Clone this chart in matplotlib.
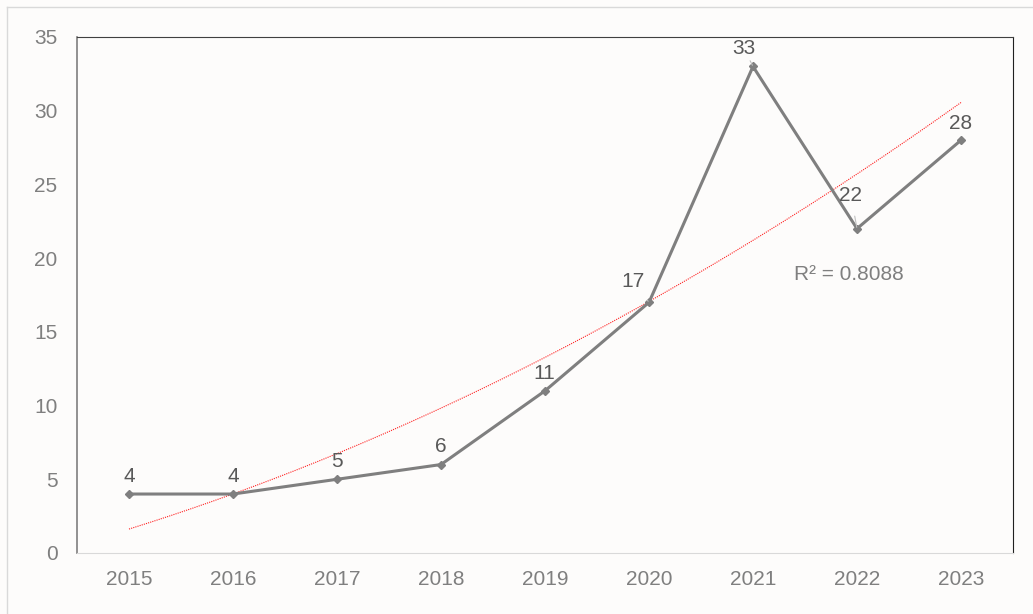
import numpy as np
import matplotlib
matplotlib.use("Agg")
import matplotlib.pyplot as plt
from matplotlib.lines import Line2D

years = ["2015", "2016", "2017", "2018", "2019", "2020", "2021", "2022", "2023"]
counts = [4, 4, 5, 6, 11, 17, 33, 22, 28]
r2_label = "R² = 0.8088"

# label offsets in pixels (dx, dy) relative to each point
label_offsets = [(0, 18), (0, 18), (0, 18), (0, 18), (-1, 17), (-16, 21), (-9, 18), (-6, 33), (0, 17)]
leader = [False, False, False, False, False, True, True, True, False]

plt.rcParams["font.family"] = ["Liberation Sans", "DejaVu Sans"]

bg = "#fdfcfb"
fig = plt.figure(figsize=(10.33, 6.14), dpi=100, facecolor=bg)
ax = fig.add_axes([77 / 1033, 61 / 614, 936 / 1033, 516 / 614], facecolor=bg)

# outer chart border (only left/top visible)
fig.add_artist(Line2D([7 / 1033, 7 / 1033], [0, 1 - 7 / 614], transform=fig.transFigure,
                      color="#d9d9d9", lw=1))
fig.add_artist(Line2D([7 / 1033, 1], [1 - 7 / 614, 1 - 7 / 614], transform=fig.transFigure,
                      color="#d9d9d9", lw=1))

x = np.arange(len(years))
y = np.array(counts, dtype=float)

# polynomial (order 2) trendline, like Excel
coef = np.polyfit(x, y, 2)
xt = np.linspace(0, len(years) - 1, 200)
ax.plot(xt, np.polyval(coef, xt), color="#ff2020", lw=0.8, ls=(0, (1, 1)), zorder=2)

ax.plot(x, y, color="#7f7f7f", lw=2.2, marker="D", ms=4, mfc="#7f7f7f", mec="#7f7f7f", zorder=3)

for i, v in enumerate(counts):
    dx, dy = label_offsets[i]
    props = dict(arrowstyle="-", color="#bfbfbf", lw=0.8, shrinkA=6, shrinkB=1) if leader[i] else None
    ax.annotate(str(v), (x[i], v), xytext=(dx, dy), textcoords="offset pixels",
                ha="center", va="center", fontsize=15, color="#595959",
                arrowprops=props, zorder=4)

ax.text(6.92, 18.9, r2_label, ha="center", va="center", fontsize=15, color="#7f7f7f")

ax.set_xlim(-0.5, len(years) - 0.5)
ax.set_ylim(0, 35)
ax.set_yticks(range(0, 36, 5))
ax.set_xticks(x)
ax.set_xticklabels(years)
ax.tick_params(axis="both", length=0, labelsize=15, labelcolor="#7f7f7f")
ax.tick_params(axis="x", pad=12)
ax.tick_params(axis="y", pad=14)

ax.spines["left"].set_color("#7f7f7f")
ax.spines["left"].set_linewidth(1.2)
ax.spines["top"].set_color("#404040")
ax.spines["right"].set_color("#202020")
ax.spines["bottom"].set_color("#d9d9d9")

fig.savefig("out.png", dpi=100, facecolor=bg)
